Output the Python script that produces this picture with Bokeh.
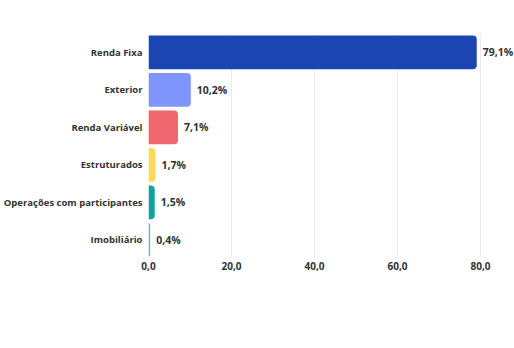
from bokeh.plotting import figure
from bokeh.models import ColumnDataSource, FixedTicker, CustomJSTickFormatter, LabelSet
from bokeh.core.properties import value
from bokeh.embed import file_html
from bokeh.resources import INLINE

categories = ["Renda Fixa", "Exterior", "Renda Variável", "Estruturados",
              "Operações com participantes", "Imobiliário"]
values = [79.1, 10.2, 7.1, 1.7, 1.5, 0.4]
labels = ["79,1%", "10,2%", "7,1%", "1,7%", "1,5%", "0,4%"]
colors = ["#1b45b0", "#7f95fc", "#f0666f", "#fdd95a", "#0aa59c", "#5ab4ee"]
ticks = [0, 20, 40, 60, 80]

src = ColumnDataSource(dict(cat=categories, val=values, lab=labels, col=colors))

p = figure(width=514, height=348, y_range=list(reversed(categories)),
           x_range=(0, 88.2), output_backend="svg", toolbar_location=None,
           min_border_left=147, min_border_right=0, min_border_top=33,
           min_border_bottom=90)
p.hbar(y="cat", right="val", left=0, height=0.9, fill_color="col", line_color=None,
       source=src, border_radius=(0, 4, 4, 0))
ls = LabelSet(x="val", y="cat", text="lab", source=src, x_offset=6, y_offset=0,
              text_baseline="middle", text_font=value("Open Sans"),
              text_font_style="bold", text_font_size="10.5px", text_color="#333333")
p.add_layout(ls)

p.outline_line_color = None
p.ygrid.grid_line_color = None
p.xgrid.grid_line_color = "#ebebeb"
p.xaxis.ticker = FixedTicker(ticks=ticks)
p.xaxis.formatter = CustomJSTickFormatter(code="return tick.toFixed(1).replace('.', ',');")
for ax in (p.xaxis, p.yaxis):
    ax.axis_line_color = None
    ax.major_tick_line_color = None
    ax.minor_tick_line_color = None
    ax.major_tick_out = 0
    ax.major_tick_in = 0
    ax.minor_tick_out = 0
    ax.major_label_text_font = "Open Sans"
    ax.major_label_text_font_style = "bold"
    ax.major_label_text_color = "#333333"
    ax.major_label_text_font_size = "9.5px"
p.xaxis.major_label_text_font_size = "10px"
p.yaxis.major_label_standoff = 6
p.xaxis.major_label_standoff = 3

open("out.html", "w").write(file_html(p, INLINE))
